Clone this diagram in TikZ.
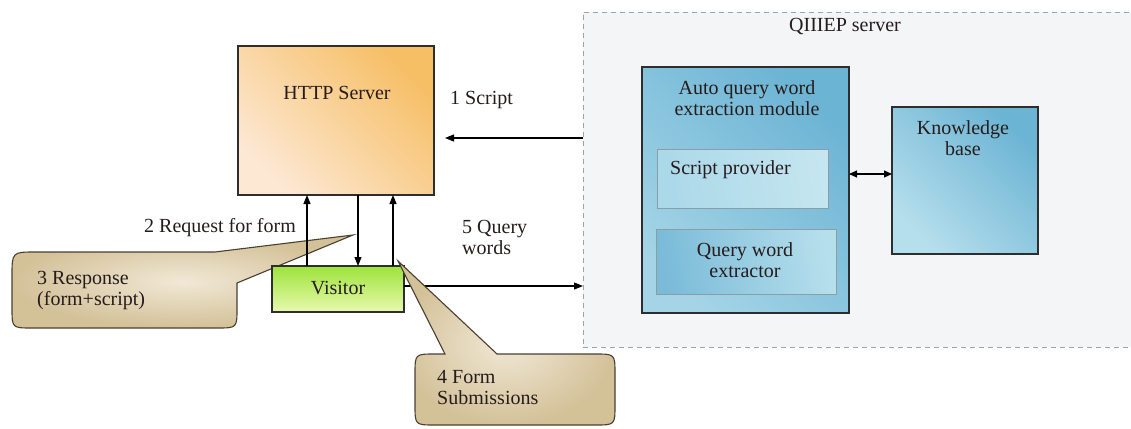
\documentclass[tikz,border=0pt]{standalone}
\usepackage{fontspec}
\setmainfont{Liberation Serif}
\usetikzlibrary{arrows.meta,calc}
\definecolor{httplight}{HTML}{FDE8D4}
\definecolor{httpdark}{HTML}{F6BF66}
\definecolor{visitortop}{HTML}{9DE33C}
\definecolor{visitorbot}{HTML}{E8FAAE}
\definecolor{bluedark}{HTML}{6CB4D4}
\definecolor{bluelight}{HTML}{B6DFEC}
\definecolor{innerline}{HTML}{8B9EA7}
\definecolor{tandark}{HTML}{D3C198}
\definecolor{tanlight}{HTML}{F1E8D6}
\definecolor{qbg}{HTML}{F3F5F7}
\definecolor{dashgray}{HTML}{A2A2A2}
\definecolor{txtcol}{HTML}{261C1C}
\definecolor{boxline}{HTML}{2E2E2E}
\begin{document}
\begin{tikzpicture}[x=1pt,y=-1pt,
  box/.style={draw=boxline, line width=1.1pt, inner sep=0pt, outer sep=0pt},
  inbox/.style={draw=innerline, line width=0.9pt, inner sep=0pt, outer sep=0pt},
  txt/.style={font=\fontsize{20}{21}\selectfont, text=txtcol, inner sep=0pt, align=center},
  arr/.style={-{Triangle[length=9pt,width=7pt]}, line width=1.1pt, draw=black},
  darr/.style={{Triangle[length=8pt,width=7pt]}-{Triangle[length=8pt,width=7pt]}, line width=1.1pt, draw=black},
  callout/.style={draw=boxline!80!brown, line width=1.1pt, inner color=tanlight, outer color=tandark}
]
\useasboundingbox (0,0) rectangle (1131,428);

% QIIIEP server region
\node[draw=dashgray, dash pattern=on 5pt off 4pt, line width=0.8pt, fill=qbg,
      minimum width=560pt, minimum height=335pt, anchor=north west, inner sep=0pt, outer sep=0pt]
      (qiiiep) at (583,12) {};
\node[txt] (qtitle) at (845,27) {QIIIEP server};

% HTTP server
\node[box, minimum width=196pt, minimum height=149pt,
      left color=httplight, right color=httpdark, shading angle=135] (http) at (336,120.5) {};
\node[txt] (httptxt) at (337,93) {HTTP Server};

% Auto query word extraction module
\node[box, minimum width=207pt, minimum height=246pt,
      left color=bluelight!75!bluedark, middle color=bluelight, right color=bluedark, shading angle=135] (auto) at (745.5,190) {};
\node[txt] (autotxt) at (747,98) {Auto query word\\extraction module};

\node[inbox, minimum width=171pt, minimum height=59pt,
      left color=bluelight!85!bluedark, right color=bluelight!80!white, shading angle=100] (sp) at (742.5,178.5) {};
\node[txt, anchor=west] (sptxt) at (670,170) {Script provider};

\node[inbox, minimum width=180pt, minimum height=65pt,
      left color=bluedark!90!white, right color=bluelight, shading angle=100] (qwe) at (746,261.5) {};
\node[txt] (qwetxt) at (745,260) {Query word\\extractor};

% Knowledge base
\node[box, minimum width=146pt, minimum height=147pt,
      left color=bluelight, right color=bluedark, shading angle=135] (kb) at (965,180.5) {};
\node[txt] (kbtxt) at (963,138) {Knowledge\\base};

% callout 3
\path[callout] (353,235) -- (237,283) -- (237,308) .. controls (237,328) .. (217,328)
   -- (32,328) .. controls (12,328) .. (12,308) -- (12,276) .. controls (12,252) .. (36,252)
   -- (215,252) -- cycle;
\node[txt, anchor=west, align=left] (c3) at (37,291) {3 Response\\(form+script)};

% Visitor
\node[box, minimum width=132pt, minimum height=46pt,
      top color=visitortop, bottom color=visitorbot] (visitor) at (338,289) {};
\node[txt] (visitortxt) at (338,288) {Visitor};

% arrows
\coordinate (s1) at ([xshift=11pt,yshift=-17.5pt]http.east);
\coordinate (v5) at ([yshift=3pt]visitor.east);
\coordinate (ak) at ([yshift=16pt]auto.east);
\draw[arr] (qiiiep.west |- s1) -- (s1);
\draw[arr] ([xshift=35pt]visitor.north west) -- ([xshift=35pt]visitor.north west |- http.south);
\draw[arr] ([xshift=86pt]visitor.north west |- http.south) -- ([xshift=86pt]visitor.north west);
\draw[arr] ([xshift=121pt]visitor.north west) -- ([xshift=121pt]visitor.north west |- http.south);
\draw[arr] (v5) -- (qiiiep.west |- v5);
\draw[darr] (ak) -- (kb.west |- ak);

% labels
\node[txt, anchor=west] (l1) at (450,100) {1 Script};
\node[txt, anchor=east] (l2) at (296,228) {2 Request for form};
\node[txt, anchor=west, align=left] (l5) at (462,237) {5 Query\\words};

% callout 4
\path[callout] (398,261) -- (497,354) -- (595,354) .. controls (615,354) .. (615,374)
   -- (615,405) .. controls (615,425) .. (595,425) -- (435,425) .. controls (415,425) .. (415,405)
   -- (415,374) .. controls (415,354) .. (435,354) -- (445,354) -- cycle;
\node[txt, anchor=west, align=left] (c4) at (437,388) {4 Form\\Submissions};
\end{tikzpicture}
\end{document}
